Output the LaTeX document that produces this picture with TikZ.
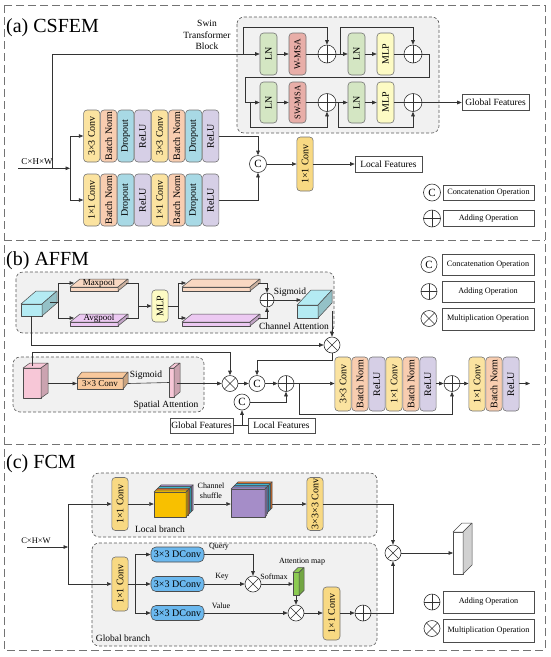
\documentclass[tikz,border=0pt]{standalone}
\usepackage{fontspec}
\setmainfont{Liberation Serif}
\usetikzlibrary{arrows.meta,calc}
\definecolor{cyel}{HTML}{FBE3A0}
\definecolor{cyel2}{HTML}{F8D983}
\definecolor{cpea}{HTML}{F8CDB0}
\definecolor{cblu}{HTML}{A8D9E5}
\definecolor{clav}{HTML}{D6CFE6}
\definecolor{cgrn}{HTML}{D4E6C3}
\definecolor{cred}{HTML}{E8AEA8}
\definecolor{cmlp}{HTML}{FDFBC4}
\definecolor{cgray}{HTML}{F1F1F1}
\definecolor{cdconv}{HTML}{6BB8EE}
\definecolor{ccyan}{HTML}{B4EBF3}
\definecolor{cmax}{HTML}{F9D8C2}
\definecolor{cavg}{HTML}{ECC9F2}
\definecolor{cpink}{HTML}{F7C7D7}
\definecolor{corg}{HTML}{F8C89C}
\definecolor{cgreen}{HTML}{8CCB52}
\definecolor{cgold}{HTML}{F8C000}
\definecolor{corange}{HTML}{ED7D31}
\definecolor{ccyn}{HTML}{3FB5CC}
\definecolor{cblu2}{HTML}{5B9BD5}
\definecolor{cpur}{HTML}{A58DC8}
\newcommand\mycub[4]{%
  \filldraw[face, fill=#4] (#1.north west) -- ([shift={(#2,-#3)}]#1.north west) -- ([shift={(#2,-#3)}]#1.north east) -- (#1.north east) -- cycle;
  \filldraw[face, fill=#4!82!black] (#1.north east) -- ([shift={(#2,-#3)}]#1.north east) -- ([shift={(#2,-#3)}]#1.south east) -- (#1.south east) -- cycle;
}
\newcommand\mycubxy[7]{%
  \filldraw[face, fill=#7] (#1,#2) rectangle (#3,#4);
  \filldraw[face, fill=#7] (#1,#2) -- (#1+#5,#2-#6) -- (#3+#5,#2-#6) -- (#3,#2) -- cycle;
  \filldraw[face, fill=#7!80!black] (#3,#2) -- (#3+#5,#2-#6) -- (#3+#5,#4-#6) -- (#3,#4) -- cycle;
}
\begin{document}
\begin{tikzpicture}[x=1pt,y=-1pt,
  ln/.style={draw=black!80, line width=0.6pt},
  arr/.style={ln, -{Triangle[length=4.5pt,width=3.6pt]}},
  vbox/.style={draw=black!55, line width=0.6pt, rounded corners=3.5pt, inner sep=0pt, minimum width=16.3pt, font=\fontsize{10}{11}\selectfont},
  hbox/.style={draw=black!70, line width=0.6pt, inner sep=0pt},
  grp/.style={draw=black!65, dash pattern=on 3pt off 2pt, line width=0.6pt, rounded corners=7pt, fill=cgray},
  frm/.style={draw=black!55, dash pattern=on 8pt off 4pt, line width=0.9pt},
  opc/.style={circle, draw=black!80, line width=0.6pt, fill=white, inner sep=0pt, minimum size=16pt},
  cat/.style={opc, font=\fontsize{11}{11}\selectfont},
  plus/.style={opc, path picture={\draw[black!80,line width=0.6pt] (path picture bounding box.north) -- (path picture bounding box.south) (path picture bounding box.west) -- (path picture bounding box.east);}},
  mult/.style={opc, path picture={\draw[black!80,line width=0.6pt] (path picture bounding box.north west) -- (path picture bounding box.south east) (path picture bounding box.north east) -- (path picture bounding box.south west);}},
  face/.style={draw=black!70, line width=0.5pt, line join=round},
  front/.style={face, inner sep=0pt, outer sep=0pt},
  lbl/.style={font=\fontsize{9.5}{11}\selectfont, inner sep=1pt},
  sml/.style={font=\fontsize{8}{9}\selectfont, inner sep=1pt},
  leg/.style={hbox, minimum width=91pt, font=\fontsize{8.2}{9}\selectfont},
  ttl/.style={anchor=base west, font=\fontsize{20}{22}\selectfont, inner sep=0pt},
]
\useasboundingbox (0,0) rectangle (550,657);
% ---------- frames ----------
\draw[frm] (4,5) rectangle (545,650);
\draw[frm] (4,240) -- (545,240);
\draw[frm] (4,444) -- (545,444);

% ================= (a) CSFEM =================
\node[ttl] (tta) at (6,32) {(a) CSFEM};
\draw[grp] (237,17) rectangle (439,133);
\node[lbl, align=center, font=\fontsize{9.5}{11.5}\selectfont] (swl) at (207,35) {Swin\\Transformer\\Block};

% input
\node[font=\fontsize{9}{10}\selectfont, inner sep=0pt] (inAt) at (37,161.5) {C×H×W};
\coordinate (inA) at (18,168.3);
\coordinate (jS) at (52,168.3);
\coordinate (jA) at (70,168.3);
\draw[arr] (inA) -- (jA);

% conv stacks
\foreach \i/\t/\c in {0/3×3 Conv/cyel,1/Batch Norm/cpea,2/Dropout/cblu,3/ReLU/clav,4/3×3 Conv/cyel,5/Batch Norm/cpea,6/Dropout/cblu,7/ReLU/clav}
  \node[vbox, fill=\c, minimum height=52pt] (ta\i) at ({91.7+17*\i},136) {\rotatebox{90}{\t}};
\foreach \i/\t/\c in {0/1×1 Conv/cyel,1/Batch Norm/cpea,2/Dropout/cblu,3/ReLU/clav,4/1×1 Conv/cyel,5/Batch Norm/cpea,6/Dropout/cblu,7/ReLU/clav}
  \node[vbox, fill=\c, minimum height=52pt] (tb\i) at ({91.7+17*\i},200) {\rotatebox{90}{\t}};
\draw[arr] (jA) |- (ta0.west);
\draw[arr] (jA) |- (tb0.west);

\node[cat, minimum size=17pt] (cA) at (258,164) {C};
\draw[arr] (ta7.east) -| (cA.north);
\draw[arr] (tb7.east) -| (cA.south);
\node[vbox, fill=cyel2, minimum height=54pt] (cv1) at (305,164) {\rotatebox{90}{1×1 Conv}};
\draw[arr] (cA.east) -- (cv1.west);
\node[hbox, minimum width=67pt, minimum height=16pt, font=\fontsize{9.5}{10}\selectfont] (lf) at (388.5,164.5) {Local Features};
\draw[arr] (cv1.east) -- (cv1.east -| lf.west);

% swin block
\node[vbox, fill=cgrn, minimum width=17pt, minimum height=42pt] (ln1) at (268.5,54) {\rotatebox{90}{LN}};
\node[vbox, fill=cred, minimum width=17pt, minimum height=42pt, font=\fontsize{9}{10}\selectfont] (wm) at (297.5,54) {\rotatebox{90}{W-MSA}};
\node[plus, minimum size=18pt] (p1) at (327,54) {};
\node[vbox, fill=cgrn, minimum width=17pt, minimum height=42pt] (ln2) at (356.5,54) {\rotatebox{90}{LN}};
\node[vbox, fill=cmlp, minimum width=17pt, minimum height=42pt] (ml1) at (385.5,54) {\rotatebox{90}{MLP}};
\node[plus, minimum size=18pt] (p2) at (413,54) {};
\node[vbox, fill=cgrn, minimum width=17pt, minimum height=41pt] (ln3) at (268.5,102.5) {\rotatebox{90}{LN}};
\node[vbox, fill=cred, minimum width=17pt, minimum height=41pt, font=\fontsize{8.5}{9}\selectfont] (sw) at (297.5,102.5) {\rotatebox{90}{SW-MSA}};
\node[plus, minimum size=18pt] (p3) at (327,102.5) {};
\node[vbox, fill=cgrn, minimum width=17pt, minimum height=41pt] (ln4) at (356.5,102.5) {\rotatebox{90}{LN}};
\node[vbox, fill=cmlp, minimum width=17pt, minimum height=41pt] (ml2) at (385.5,102.5) {\rotatebox{90}{MLP}};
\node[plus, minimum size=18pt] (p4) at (413,102.5) {};

\draw[arr] (jS) |- (ln1.west);
\draw[arr] (ln1.east) -- (wm.west);
\draw[ln] (wm.east) -- (p1.west);
\draw[arr] (p1.east) -- (ln2.west);
\draw[arr] (ln2.east) -- (ml1.west);
\draw[ln] (ml1.east) -- (p2.west);
\coordinate (k1) at (243,54);
\coordinate (k2) at (340,54);
\draw[arr] (k1) -- ++(0,-27) -| (p1.north);
\draw[arr] (k2) -- ++(0,-27) -| (p2.north);
\coordinate (w1) at (429,77);
\coordinate (w2) at (245,77);
\draw[arr] (p2.east) -| (w1) -- (w2) |- (ln3.west);
\draw[arr] (ln3.east) -- (sw.west);
\draw[ln] (sw.east) -- (p3.west);
\draw[arr] (p3.east) -- (ln4.west);
\draw[arr] (ln4.east) -- (ml2.west);
\draw[ln] (ml2.east) -- (p4.west);
\coordinate (k3) at (250,102.5);
\coordinate (k4) at (338,102.5);
\draw[arr] (k3) -- ++(0,24.5) -| (p3.south);
\draw[arr] (k4) -- ++(0,24.5) -| (p4.south);
\node[hbox, minimum width=67pt, minimum height=16pt, font=\fontsize{9.5}{10}\selectfont] (gf) at (495.5,102.5) {Global Features};
\draw[arr] (p4.east) -- (gf.west);

% legend (a)
\node[cat, minimum size=17pt] (lac) at (432,192.5) {C};
\node[leg, minimum height=15pt] (lacb) at (488.5,192.5) {Concatenation Operation};
\node[plus, minimum size=17pt] (lap) at (432,218.5) {};
\node[leg, minimum height=16pt] (lapb) at (488.5,218.5) {Adding Operation};

% ================= (b) AFFM =================
\node[ttl] (ttb) at (6,265) {(b) AFFM};
\draw[grp] (16,272) rectangle (334,333);
\node[front, fill=ccyan, minimum width=21pt, minimum height=12pt] (cu1) at (31.5,310) {};
\mycub{cu1}{15}{13}{ccyan}
\coordinate (cu1o) at (50,302);
\coordinate (jx) at (58,302);
\draw[ln] (cu1o) -- (jx);
\node[front, fill=cmax, minimum width=48pt, minimum height=4pt] (mx) at (94,289) {};
\mycub{mx}{10}{8}{cmax}
\node[lbl, font=\fontsize{9}{10}\selectfont] (mxt) at (99,283) {Maxpool};
\node[front, fill=cavg, minimum width=48pt, minimum height=4pt] (av) at (94,324) {};
\mycub{av}{10}{8}{cavg}
\node[lbl, font=\fontsize{9}{10}\selectfont] (avt) at (99,318) {Avgpool};
\draw[arr] (jx) |- ([shift={(4,-4)}]mx.north west);
\draw[arr] (jx) |- ([shift={(4,-4)}]av.north west);
\node[vbox, fill=cmlp, minimum height=32pt] (mlp) at (160,306) {\rotatebox{90}{MLP}};
\coordinate (jm) at (138,306);
\draw[ln] ([shift={(8,-4)}]mx.north east) -| (jm);
\draw[ln] ([shift={(8,-4)}]av.north east) -| (jm);
\draw[arr] (jm) -- (mlp.west);
\coordinate (jn) at (178,306);
\draw[ln] (mlp.east) -- (jn);
\node[front, fill=cmax, minimum width=68pt, minimum height=4pt] (pk1) at (216,289) {};
\mycub{pk1}{10}{8}{cmax}
\node[front, fill=cavg, minimum width=68pt, minimum height=4pt] (pk2) at (216,324) {};
\mycub{pk2}{10}{8}{cavg}
\draw[arr] (jn) |- ([shift={(4,-4)}]pk1.north west);
\draw[arr] (jn) |- ([shift={(4,-4)}]pk2.north west);
\node[plus, minimum size=14pt] (pa) at (267,300) {};
\draw[arr] ([shift={(8,-4)}]pk1.north east) -| (pa.north);
\draw[arr] ([shift={(8,-4)}]pk2.north east) -| (pa.south);
\node[front, fill=ccyan, minimum width=21pt, minimum height=13pt] (cu2) at (307.5,311.5) {};
\mycub{cu2}{14}{15}{ccyan}
\coordinate (cu2i) at (301,300);
\draw[arr] (pa.east) -- (cu2i);
\node[lbl] (sgl) at (290,292) {Sigmoid};
\node[lbl] (cal) at (294,326) {Channel Attention};
\node[mult] (m1) at (332,345) {};
\coordinate (cu2o) at (332,311);
\draw[arr] (cu2o) -- (m1.north);
\draw[arr] (cu1.south) |- (m1.west);

% spatial attention
\draw[grp] (13,357) rectangle (204,412);
\node[front, fill=cpink, minimum width=18pt, minimum height=30pt] (pc) at (32,383) {};
\mycub{pc}{7}{5}{cpink}
\node[front, fill=corg, minimum width=46pt, minimum height=11pt, font=\fontsize{9}{10}\selectfont] (cv) at (100,383.5) {3×3 Conv};
\mycub{cv}{5}{6}{corg}
\node[front, fill=cpink, minimum width=5pt, minimum height=29pt] (ps) at (171.5,382.5) {};
\mycub{ps}{6}{5}{cpink}
\coordinate (pco) at (48,383.5);
\coordinate (cvo) at (128,383.5);
\coordinate (pso) at (177,383.5);
\coordinate (pct) at (32,366);
\node[mult] (m2) at (230,383.5) {};
\draw[arr] (pco) -- (cv.west);
\draw[ln] (cvo) -- (ps.west);
\draw[arr] (pso) -- (m2.west);
\draw[arr] (pct) -- ++(0,-14) -| (m2.north);
\node[lbl] (sgl2) at (146,375) {Sigmoid};
\node[lbl] (spl) at (166,405) {Spatial Attention};

\node[cat] (c1) at (257,383.5) {C};
\node[plus] (pl1) at (286,383.5) {};
\node[cat] (c2) at (242,402) {C};
\draw[arr] (m2.east) -- (c1.west);
\draw[arr] (c1.east) -- (pl1.west);
\draw[arr] (m1.south) -- ++(0,7) -| (c1.north);
\node[hbox, minimum width=63pt, minimum height=15pt, font=\fontsize{9.5}{10}\selectfont] (gfb) at (201.5,425.5) {Global Features};
\node[hbox, minimum width=67pt, minimum height=15pt, font=\fontsize{9.5}{10}\selectfont] (lfb) at (281.5,425.5) {Local Features};
\draw[ln] (gfb.east) -- (lfb.west);
\draw[arr] (gfb.east -| c2.south) -- (c2.south);
\draw[arr] (c2.east) -| (pl1.south);

\foreach \i/\t/\c in {0/3×3 Conv/cyel,1/Batch Norm/cpea,2/ReLU/clav,3/1×1 Conv/cyel,4/Batch Norm/cpea,5/ReLU/clav}
  \node[vbox, fill=\c, minimum height=54pt] (b\i) at ({343+17*\i},384) {\rotatebox{90}{\t}};
\draw[arr] (pl1.east) -- (pl1.east -| b0.west);
\node[plus] (pl2) at (452,383.5) {};
\draw[arr] (b5.east |- pl2.west) -- (pl2.west);
\coordinate (sk) at (299,383.5);
\draw[arr] (sk) -- ++(0,30.5) -| (pl2.south);
\foreach \i/\t/\c in {0/1×1 Conv/cyel,1/Batch Norm/cpea,2/ReLU/clav}
  \node[vbox, fill=\c, minimum height=54pt] (e\i) at ({477+17*\i},384) {\rotatebox{90}{\t}};
\draw[arr] (pl2.east) -- (pl2.east -| e0.west);
\coordinate (outB) at (530,383.5);
\draw[arr] (e2.east |- outB) -- (outB);

% legend (b)
\node[cat] (lbc) at (429,264.5) {C};
\node[leg, minimum width=92pt, minimum height=21pt] (lbcb) at (488,264.5) {Concatenation Operation};
\node[plus] (lbp) at (429,291.5) {};
\node[leg, minimum width=92pt, minimum height=21pt] (lbpb) at (488,291.5) {Adding Operation};
\node[mult] (lbm) at (429,318.5) {};
\node[leg, minimum width=92pt, minimum height=22pt] (lbmb) at (488,319) {Multiplication Operation};

% ================= (c) FCM =================
\node[ttl] (ttc) at (6,468) {(c) FCM};
\draw[grp] (92,473) rectangle (377,537);
\draw[grp] (92,543) rectangle (377,646);
\node[lbl] (lbr) at (160,529) {Local branch};
\node[lbl] (gbr) at (123,638) {Global branch};

\node[font=\fontsize{8.5}{9}\selectfont, inner sep=0pt] (inCt) at (36,540.5) {C×H×W};
\coordinate (inC) at (27,547);
\coordinate (jC) at (68,547);
\draw[arr] (inC) -- (jC);

\node[vbox, fill=cyel2, minimum height=53pt] (lc1) at (120,504) {\rotatebox{90}{1×1 Conv}};
\node[vbox, fill=cyel2, minimum height=54pt] (gc1) at (120,584) {\rotatebox{90}{1×1 Conv}};
\draw[arr] (jC) |- (lc1.west);
\draw[arr] (jC) |- (gc1.west);

% local branch cubes
\mycubxy{159.4}{486.6}{191.4}{511.6}{1.8}{1.8}{cpur}
\mycubxy{157.6}{488.4}{189.6}{513.4}{1.8}{1.8}{ccyn}
\mycubxy{155.8}{490.2}{187.8}{515.2}{1.8}{1.8}{corange}
\mycubxy{154}{492}{186}{517}{1.8}{1.8}{cgold}
\node[inner sep=0pt, minimum width=32pt, minimum height=25pt] (cube1) at (170,504.5) {};
\mycubxy{236.4}{483.6}{270.4}{509.6}{1.8}{1.8}{corange}
\mycubxy{234.6}{485.4}{268.6}{511.4}{1.8}{1.8}{ccyn}
\mycubxy{232.8}{487.2}{266.8}{513.2}{1.8}{1.8}{cblu2}
\mycubxy{231}{489}{265}{517}{1.8}{1.8}{cpur}
\node[inner sep=0pt, minimum width=34pt, minimum height=28pt] (cube2) at (248,503) {};
\draw[arr] (lc1.east) -- (lc1.east -| cube1.west);
\coordinate (c1o) at (194,504);
\coordinate (c2o) at (272,504);
\draw[arr] (c1o) -- (c1o -| cube2.west);
\node[sml, align=center, font=\fontsize{8}{10}\selectfont] (chs) at (211,491) {Channel\\shuffle};
\node[vbox, fill=cyel2, minimum height=53pt] (lc2) at (315,504) {\rotatebox{90}{3×3×3 Conv}};
\draw[arr] (c2o) -- (lc2.west);

% global branch
\coordinate (js) at (135,584);
\draw[ln] (gc1.east) -- (js);
\node[vbox, fill=cdconv, draw=black!70, rounded corners=5pt, minimum width=53pt, minimum height=15pt] (d1) at (177.5,554.5) {3×3 DConv};
\node[vbox, fill=cdconv, draw=black!70, rounded corners=5pt, minimum width=53pt, minimum height=15pt] (d2) at (177.5,584) {3×3 DConv};
\node[vbox, fill=cdconv, draw=black!70, rounded corners=5pt, minimum width=53pt, minimum height=15pt] (d3) at (177.5,613) {3×3 DConv};
\draw[arr] (js) |- (d1.west);
\draw[arr] (js) -- (d2.west);
\draw[arr] (js) |- (d3.west);
\node[mult] (mq) at (253,584) {};
\node[mult] (mv) at (296,613) {};
\draw[arr] (d1.east) -| (mq.north);
\draw[arr] (d2.east) -- (mq.west);
\draw[arr] (d3.east) -- (mv.west);
\node[sml] (ql) at (219,547) {Query};
\node[sml] (kl) at (222,577) {Key};
\node[sml] (vl) at (221,606) {Value};
\node[front, fill=cgreen, minimum width=6pt, minimum height=23pt] (gs) at (296,584) {};
\mycub{gs}{5}{5}{cgreen}
\draw[arr] (mq.east) -- (gs.west);
\node[sml] (sfl) at (274,577) {Softmax};
\node[sml] (aml) at (302,562) {Attention map};
\draw[arr] (gs.south) -- (mv.north);
\node[vbox, fill=cyel2, minimum width=17pt, minimum height=53pt] (gc2) at (331.5,613.5) {\rotatebox{90}{1×1 Conv}};
\draw[arr] (mv.east) -- (mv.east -| gc2.west);
\node[plus] (pg) at (363,613) {};
\draw[arr] (gc2.east |- pg.west) -- (pg.west);
\node[mult] (mf) at (393,553) {};
\draw[arr] (pg.east) -| (mf.south);
\draw[arr] (lc2.east) -| (mf.north);
\node[front, fill=white, minimum width=10pt, minimum height=42pt] (wb) at (458,553) {};
\mycub{wb}{9}{9}{white}
\draw[arr] (mf.east) -- (wb.west);

% legend (c)
\node[plus] (lcp) at (432,602) {};
\node[leg, minimum width=91pt, minimum height=22pt] (lcpb) at (488.5,602) {Adding Operation};
\node[mult] (lcm) at (432,628.5) {};
\node[leg, minimum width=91pt, minimum height=23pt] (lcmb) at (488.5,630.5) {Multiplication Operation};
\end{tikzpicture}
\end{document}
